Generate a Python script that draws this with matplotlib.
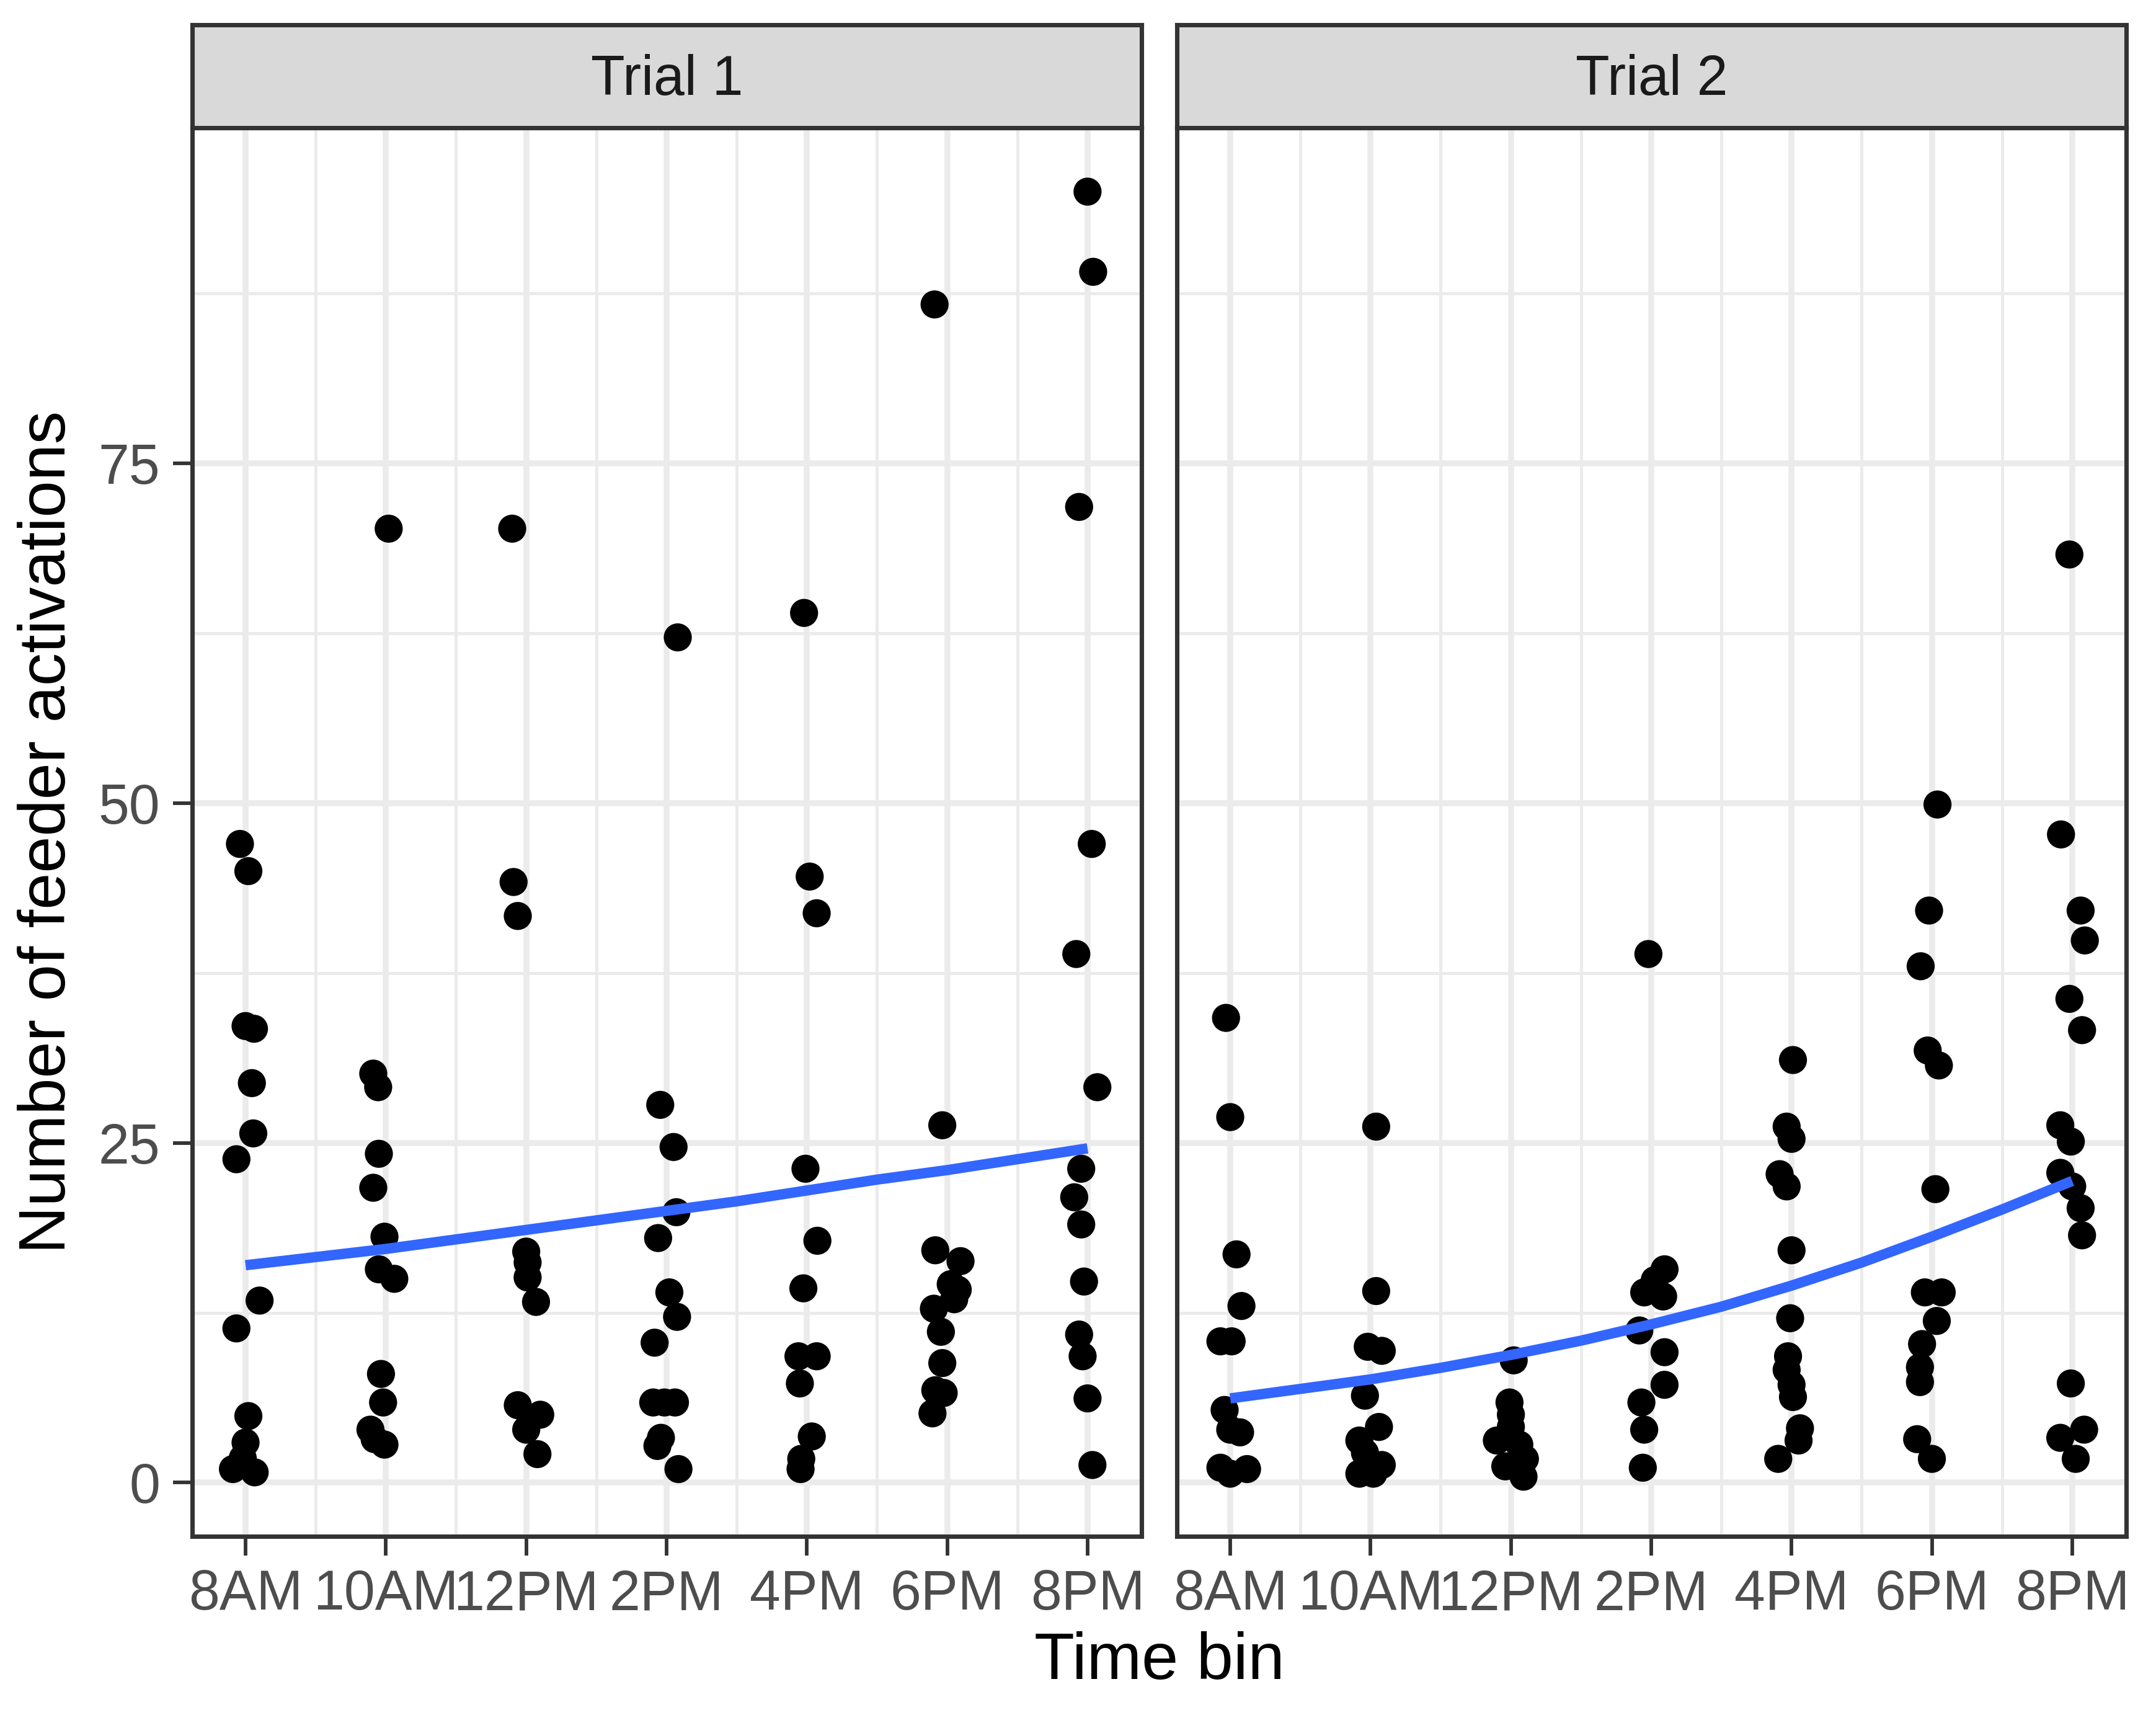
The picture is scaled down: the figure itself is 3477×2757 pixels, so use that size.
import numpy as np
import matplotlib
matplotlib.use("Agg")
import matplotlib.pyplot as plt

plt.rcParams['font.family'] = ['Liberation Sans', 'DejaVu Sans']

# ---------------- data ----------------
time_labels = ["8AM", "10AM", "12PM", "2PM", "4PM", "6PM", "8PM"]
time_hours = [8, 10, 12, 14, 16, 18, 20]
minor_hours = [9, 11, 13, 15, 17, 19]
trial_names = ["Trial 1", "Trial 2"]
y_major = [0, 25, 50, 75]
y_minor = [12.5, 37.5, 62.5, 87.5]

# Trial 1: time bin (hour), horizontal jitter (hours), count
t1_hour = ([8] * 14 + [10] * 13 + [12] * 11 + [14] * 14 + [16] * 12 + [18] * 13 + [20] * 14)
t1_jitter = [
    -0.08, 0.04, 0.00, 0.12, 0.09, 0.11, -0.13, 0.20, -0.13, 0.04, 0.00, -0.04, -0.18, 0.13,
    0.04, -0.18, -0.11, -0.10, -0.18, -0.02, -0.10, 0.12, -0.07, -0.04, -0.22, -0.16, -0.02,
    -0.20, -0.18, -0.12, 0.00, 0.02, 0.02, 0.14, -0.12, 0.20, 0.00, 0.16,
    0.16, -0.09, 0.10, 0.14, -0.12, 0.04, 0.15, -0.17, -0.19, -0.03, 0.12, -0.08, -0.13, 0.17,
    -0.04, 0.04, 0.14, -0.02, 0.15, -0.05, -0.12, 0.14, -0.10, 0.07, -0.08, -0.09,
    -0.18, -0.07, -0.17, 0.19, 0.15, 0.05, -0.19, -0.09, -0.07, -0.17, -0.05, -0.21, 0.10,
    0.00, 0.08, -0.12, 0.06, -0.16, 0.14, -0.09, -0.19, -0.09, -0.05, -0.12, -0.07, 0.00, 0.07,
]
t1_count = [
    47.0, 45.0, 33.6, 33.4, 29.4, 25.7, 23.8, 13.4, 11.35, 4.9, 2.95, 1.8, 1.0, 0.76,
    70.2, 30.1, 29.1, 24.2, 21.7, 18.1, 15.7, 15.0, 8.0, 5.9, 3.9, 3.2, 2.8,
    70.2, 44.2, 41.7, 17.0, 16.2, 15.1, 13.3, 5.7, 5.0, 3.9, 2.1,
    62.2, 27.8, 24.7, 19.9, 18.0, 14.0, 12.2, 10.3, 5.9, 5.9, 5.9, 3.3, 2.7, 1.0,
    64.0, 44.6, 41.9, 23.1, 17.8, 14.3, 9.3, 9.3, 7.3, 3.4, 1.75, 1.0,
    86.7, 26.3, 17.1, 16.3, 14.2, 14.6, 12.8, 11.1, 8.8, 6.8, 6.6, 5.1, 13.5,
    95.0, 89.1, 71.8, 47.0, 38.9, 29.1, 23.1, 21.0, 19.0, 14.8, 10.9, 9.3, 6.2, 1.3,
]

# Trial 2
t2_hour = ([8] * 12 + [10] * 11 + [12] * 9 + [14] * 11 + [16] * 14 + [18] * 14 + [20] * 16)
t2_jitter = [
    -0.06, 0.00, 0.09, 0.16, -0.14, 0.02, -0.08, 0.00, 0.14, -0.14, 0.00, 0.24,
    0.08, 0.08, -0.04, 0.16, -0.08, 0.12, -0.16, -0.08, 0.16, -0.16, 0.04,
    0.04, -0.02, 0.00, 0.00, -0.20, 0.12, 0.20, -0.08, 0.18,
    -0.04, 0.19, 0.05, -0.10, 0.17, -0.17, 0.19, 0.19, -0.14, -0.10, -0.12,
    0.02, -0.07, 0.00, -0.17, -0.07, 0.00, -0.02, -0.05, -0.07, 0.00, 0.02, 0.12, 0.10, -0.19,
    0.08, -0.04, -0.16, -0.06, 0.10, 0.05, -0.10, 0.14, 0.07, -0.14, -0.17, -0.17, -0.21, 0.00,
    -0.04, -0.16, 0.12, 0.18, -0.04, 0.14, -0.17, -0.02, -0.17, 0.00, 0.12, 0.14, -0.02, 0.17, -0.17, 0.05,
]
t2_count = [
    34.2, 26.9, 16.8, 13.0, 10.4, 10.4, 5.35, 3.9, 3.7, 1.1, 0.66, 1.0,
    26.2, 14.1, 10.0, 9.7, 6.4, 4.1, 3.1, 2.2, 1.3, 0.66, 0.66,
    9.0, 5.9, 5.0, 4.1, 3.1, 2.8, 1.75, 1.2, 0.44,
    38.9, 15.7, 14.9, 14.0, 13.7, 11.2, 9.6, 7.2, 5.9, 3.9, 1.1,
    31.1, 26.2, 25.3, 22.7, 21.8, 17.1, 12.1, 9.3, 8.3, 7.2, 6.3, 4.0, 3.1, 1.75,
    49.9, 42.1, 38.0, 31.8, 30.7, 21.6, 14.0, 14.0, 11.9, 10.2, 8.5, 7.4, 3.2, 1.75,
    68.3, 47.7, 42.1, 39.9, 35.6, 33.3, 26.3, 25.1, 22.8, 21.8, 20.2, 18.2, 7.3, 3.9, 3.3, 1.75,
]

# fitted trend (blue smooth) at each hour
smooth_hours = [8, 9, 10, 11, 12, 13, 14, 15, 16, 17, 18, 19, 20]
t1_smooth = [16.0, 16.6, 17.2, 17.9, 18.6, 19.3, 20.0, 20.7, 21.5, 22.3, 23.0, 23.8, 24.6]
t2_smooth = [6.2, 6.9, 7.6, 8.45, 9.4, 10.45, 11.65, 12.95, 14.5, 16.2, 18.1, 20.1, 22.2]

trials = [
    (t1_hour, t1_jitter, t1_count, t1_smooth),
    (t2_hour, t2_jitter, t2_count, t2_smooth),
]

# ---------------- figure ----------------
W_PX, H_PX, DPI = 3477, 2757, 300
fig = plt.figure(figsize=(W_PX / DPI, H_PX / DPI), dpi=DPI)

grey20 = "#333333"
grey30 = "#4D4D4D"
grid_col = "#EBEBEB"

panel_bottom = 1 - 2477 / H_PX
panel_top = 1 - 206 / H_PX
strip_top = 1 - 40 / H_PX
panel_lefts = [310 / W_PX, 1898 / W_PX]
panel_w = 1531 / W_PX

xlim = (7.24, 20.77)
ylim = (-3.95, 99.7)

for i, (hours, jit, counts, smooth) in enumerate(trials):
    left = panel_lefts[i]
    ax = fig.add_axes([left, panel_bottom, panel_w, panel_top - panel_bottom])
    ax.set_xlim(*xlim)
    ax.set_ylim(*ylim)
    ax.set_facecolor("white")

    ax.set_xticks(time_hours)
    ax.set_xticklabels(time_labels)
    ax.set_xticks(minor_hours, minor=True)
    ax.set_yticks(y_major)
    ax.set_yticks(y_minor, minor=True)
    ax.grid(True, which="major", color=grid_col, linewidth=2.3, zorder=0)
    ax.grid(True, which="minor", color=grid_col, linewidth=1.2, zorder=0)
    ax.set_axisbelow(True)

    ax.tick_params(axis="both", which="major", direction="out", length=7.5, width=1.4,
                   color=grey20, labelcolor=grey30, labelsize=21.5, pad=5)
    ax.tick_params(axis="both", which="minor", length=0)
    if i == 1:
        ax.tick_params(axis="y", which="both", left=False, labelleft=False)

    for sp in ax.spines.values():
        sp.set_color(grey20)
        sp.set_linewidth(1.7)

    xs = np.asarray(hours, float) + np.asarray(jit, float)
    ax.scatter(xs, counts, s=118, color="black", edgecolors="none", zorder=3)

    ax.plot(smooth_hours, smooth, color="#3366FF", linewidth=4.0,
            zorder=4, solid_capstyle="butt", solid_joinstyle="round")

    # facet strip
    sax = fig.add_axes([left, panel_top, panel_w, strip_top - panel_top])
    sax.set_facecolor("#D9D9D9")
    sax.set_xticks([])
    sax.set_yticks([])
    for sp in sax.spines.values():
        sp.set_color(grey20)
        sp.set_linewidth(1.7)
    sax.text(0.5, 0.46, trial_names[i], ha="center", va="center", fontsize=21.5,
             color="#1A1A1A", transform=sax.transAxes)

fig.text(78 / W_PX, (panel_bottom + panel_top) / 2, "Number of feeder activations",
         rotation=90, ha="center", va="center", fontsize=25.5, color="black")
fig.text(1870 / W_PX, 1 - 2679 / H_PX, "Time bin", ha="center", va="center",
         fontsize=25.5, color="black")

fig.savefig("out.png", dpi=DPI, facecolor="white")
